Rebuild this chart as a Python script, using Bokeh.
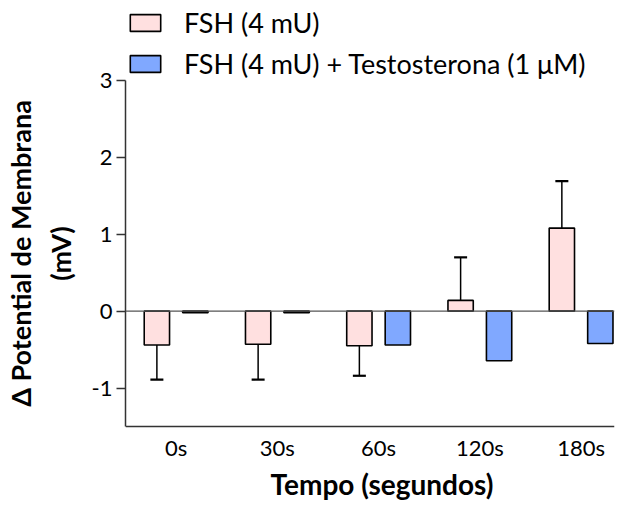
from bokeh.plotting import figure
from bokeh.models import ColumnDataSource, FixedTicker, Span, Legend, LegendItem
from bokeh.core.properties import value
from bokeh.transform import dodge
from bokeh.embed import file_html
from bokeh.resources import INLINE

categories = ["0s", "30s", "60s", "120s", "180s"]
fsh_mean = [-0.44, -0.43, -0.45, 0.14, 1.08]
fsh_sem = [0.45, 0.46, 0.39, 0.56, 0.61]
fsh_testo_mean = [-0.02, -0.02, -0.44, -0.645, -0.42]
y_ticks = [-1, 0, 1, 2, 3]
y_axis_min, y_axis_max = -1.5, 3
x_label = "Tempo (segundos)"
y_label = "\u0394 Potential de Membrana\n(mV)"
legend_labels = ["FSH (4 mU)", "FSH (4 mU) + Testosterona (1 \u03bcM)"]

FONT = "Lato"
PINK = "#FFE0E0"
BLUE = "#80A8FF"
AXIS_COLOR = "#333333"

idx = list(range(len(categories)))
err_end = [m + (s if m >= 0 else -s) for m, s in zip(fsh_mean, fsh_sem)]
src = ColumnDataSource(dict(idx=idx, fsh=fsh_mean, testo=fsh_testo_mean, err=err_end,
                            label=categories, base=[y_axis_min] * len(idx)))

X_RANGE = (-0.5, 4.33)
p = figure(width=616, height=506, output_backend="svg", toolbar_location=None,
           x_range=X_RANGE, y_range=(-2.54, 4.04),
           min_border_left=114, min_border_right=2, min_border_top=0, min_border_bottom=0)
p.outline_line_color = None
p.xgrid.visible = False
p.ygrid.visible = False
p.xaxis.visible = False
p.background_fill_color = "white"

OFF = 0.19
W = 0.25
r1 = p.vbar(x=dodge("idx", -OFF, range=p.x_range), top="fsh", bottom=0, width=W, source=src,
            fill_color=PINK, line_color="black", line_width=1.6)
r2 = p.vbar(x=dodge("idx", OFF, range=p.x_range), top="testo", bottom=0, width=W, source=src,
            fill_color=BLUE, line_color="black", line_width=1.6)
p.segment(x0=dodge("idx", -OFF, range=p.x_range), x1=dodge("idx", -OFF, range=p.x_range),
          y0="fsh", y1="err", source=src, line_color="black", line_width=1.5)
p.scatter(x=dodge("idx", -OFF, range=p.x_range), y="err", marker="dash", size=13,
          line_color="black", line_width=2.2, source=src)

# zero line and x-axis line
p.add_layout(Span(location=0, dimension="width", line_color="#555555", line_width=1.2))
p.add_layout(Span(location=y_axis_min, dimension="width", line_color=AXIS_COLOR, line_width=1.5))

# x tick labels and x axis label
p.text(x="idx", y="base", text="label", source=src, text_font=value(FONT),
       text_font_size=value("22px"), text_color="black", text_align="center",
       text_baseline="middle", y_offset=21)
p.text(x=[sum(X_RANGE) / 2], y=[y_axis_min], text=[x_label], text_font=value(FONT),
       text_font_size=value("28px"), text_font_style="bold", text_color="black",
       text_align="center", text_baseline="middle", x_offset=12, y_offset=57)

# y axis
p.yaxis.bounds = (y_axis_min, y_axis_max)
p.yaxis.ticker = FixedTicker(ticks=y_ticks)
p.yaxis.major_label_overrides = {t: str(t) for t in y_ticks}
p.yaxis.minor_tick_line_color = None
p.yaxis.major_tick_in = 0
p.yaxis.major_tick_out = 9
p.yaxis.axis_line_width = 1.5
p.yaxis.axis_line_color = AXIS_COLOR
p.yaxis.major_tick_line_color = AXIS_COLOR
p.yaxis.major_tick_line_width = 1.5
p.yaxis.major_label_text_font = FONT
p.yaxis.major_label_text_font_size = "22px"
p.yaxis.major_label_text_color = "black"
p.yaxis.major_label_standoff = 4
p.yaxis.axis_label = y_label
p.yaxis.axis_label_text_font = FONT
p.yaxis.axis_label_text_font_style = "bold"
p.yaxis.axis_label_text_font_size = "27px"
p.yaxis.axis_label_text_color = "black"
p.yaxis.axis_label_standoff = 12

legend = Legend(items=[LegendItem(label=legend_labels[0], renderers=[r1]),
                       LegendItem(label=legend_labels[1], renderers=[r2])],
                location=(1, 426), orientation="vertical")
legend.glyph_width = 38
legend.glyph_height = 21
legend.label_height = 32
legend.label_text_font = FONT
legend.label_text_font_size = "27px"
legend.label_text_color = "black"
legend.label_standoff = 20
legend.spacing = 8
legend.padding = 0
legend.margin = 0
legend.border_line_color = None
legend.background_fill_alpha = 0
p.add_layout(legend, "center")

open("out.html", "w").write(file_html(p, INLINE))
